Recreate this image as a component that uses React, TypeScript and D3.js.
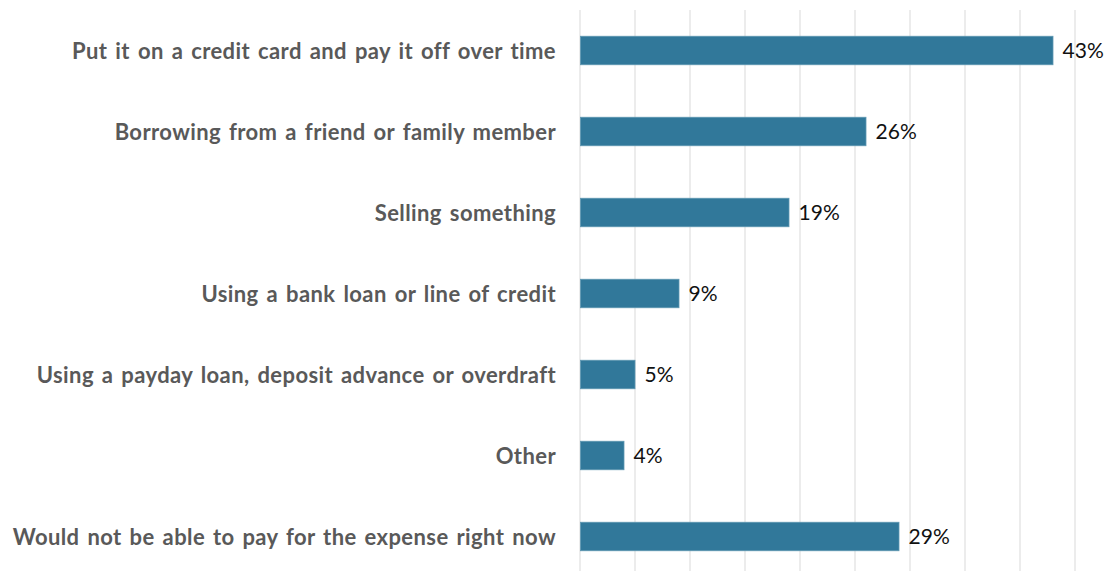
import React from "react";
import * as d3 from "d3";

const categories = [
  "Put it on a credit card and pay it off over time",
  "Borrowing from a friend or family member",
  "Selling something",
  "Using a bank loan or line of credit",
  "Using a payday loan, deposit advance or overdraft",
  "Other",
  "Would not be able to pay for the expense right now",
];
const values = [43, 26, 19, 9, 5, 4, 29];
const gridTicks = [0, 5, 10, 15, 20, 25, 30, 35, 40, 45];

const W = 1117;
const H = 571;

export default function App() {
  const x = d3.scaleLinear().domain([0, 45]).range([580, 1075]);
  const y = d3
    .scaleBand<string>()
    .domain(categories)
    .range([10, 577])
    .paddingInner(0.648)
    .paddingOuter(0.324);
  const bw = y.bandwidth();

  return (
    <svg
      width={W}
      height={H}
      style={{ position: "absolute", left: 0, top: 0, background: "#fff" }}
    >
      <g>
        {gridTicks.map((t) => (
          <line
            key={t}
            x1={x(t)}
            x2={x(t)}
            y1={10}
            y2={H}
            stroke="#d9d9d9"
            strokeWidth={1}
          />
        ))}
      </g>
      <g>
        {categories.map((c, i) => (
          <rect
            key={c}
            x={x(0) + 0.5}
            y={y(c)!}
            width={x(values[i]) - x(0) - 0.5}
            height={bw}
            fill="#31789a"
            stroke="#5e97b2"
            strokeWidth={0.8}
          />
        ))}
      </g>
      <g
        fontFamily="Lato, 'Open Sans', sans-serif"
        fontWeight="bold"
        fontSize={22}
        letterSpacing={0.4}
        wordSpacing={2.2}
        fill="#595959"
        textAnchor="end"
      >
        {categories.map((c) => (
          <text key={c} x={556} y={y(c)! + bw / 2} dy="0.38em">
            {c}
          </text>
        ))}
      </g>
      <g fontFamily="Lato, 'Open Sans', sans-serif" fontSize={21} fill="#111">
        {categories.map((c, i) => (
          <text key={c} x={x(values[i]) + 9.5} y={y(c)! + bw / 2} dy="0.38em">
            {values[i]}%
          </text>
        ))}
      </g>
    </svg>
  );
}
